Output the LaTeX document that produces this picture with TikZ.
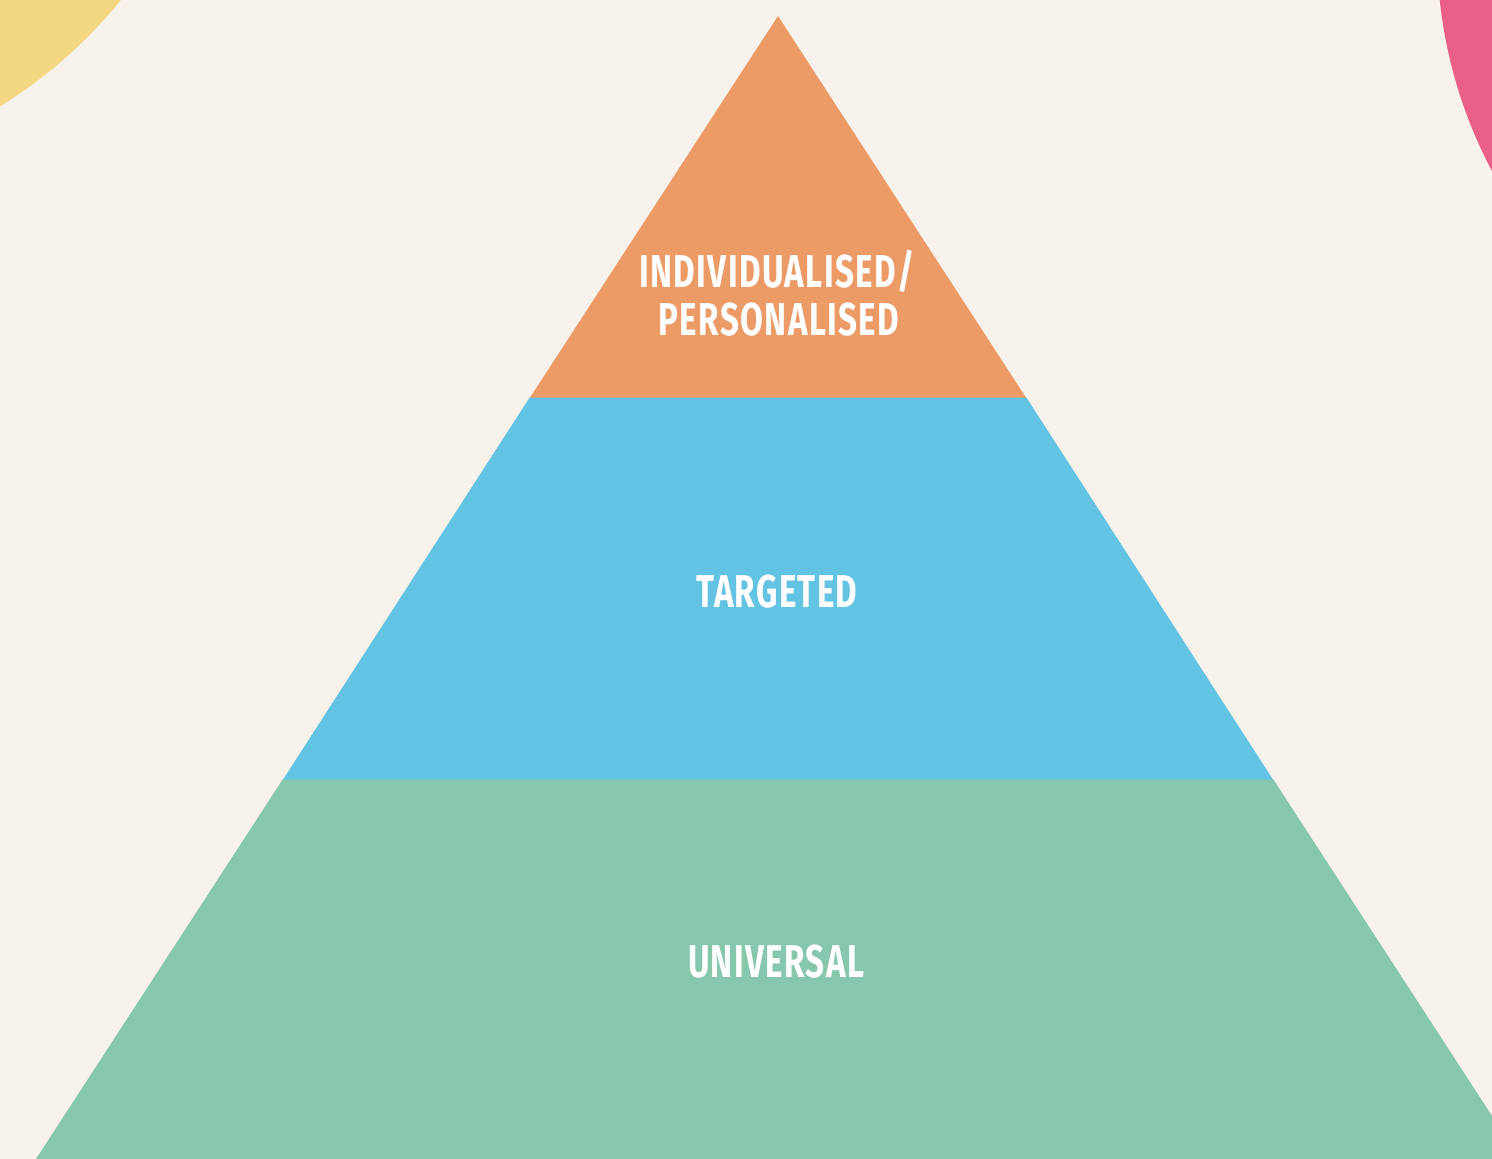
\documentclass[tikz,border=0pt]{standalone}
\usepackage{fontspec}
\newfontfamily\pyrfont[FakeStretch=0.72,LetterSpace=3]{Fira Sans}
\definecolor{bgc}{HTML}{F7F2EC}
\definecolor{yel}{HTML}{F3D881}
\definecolor{pnk}{HTML}{EA5F87}
\definecolor{org}{HTML}{EC9A66}
\definecolor{blu}{HTML}{63C3E2}
\definecolor{grn}{HTML}{86C7AD}
\tikzset{
  lbl/.style={text=white, inner sep=0pt, anchor=base, font=\pyrfont\bfseries\fontsize{46}{48}\selectfont}
}
\begin{document}
\begin{tikzpicture}[x=1pt,y=-1pt]
\useasboundingbox (0,0) rectangle (1492,1159);
\fill[bgc] (0,0) rectangle (1492,1159);
\begin{scope}
\clip (0,0) rectangle (1492,1159);
\fill[yel] (-250,-300) circle (477);
\fill[pnk] (1912,-51) circle (475);
% pyramid bands
\fill[grn] (283,779) -- (1273,779) -- (1520,1159) -- (36,1159) -- cycle;
\fill[blu] (530,397) -- (1026,397) -- (1273,779.6) -- (283,779.6) -- cycle;
\fill[org] (778,16) -- (1026,397.6) -- (530,397.6) -- cycle;
\end{scope}
\node[lbl] (ind) at (777,287) {INDIVIDUALISED/};
\node[lbl] (per) at (779,335) {PERSONALISED};
\node[lbl] (tar) at (777,607) {TARGETED};
\node[lbl] (uni) at (776,977) {UNIVERSAL};
\end{tikzpicture}
\end{document}
